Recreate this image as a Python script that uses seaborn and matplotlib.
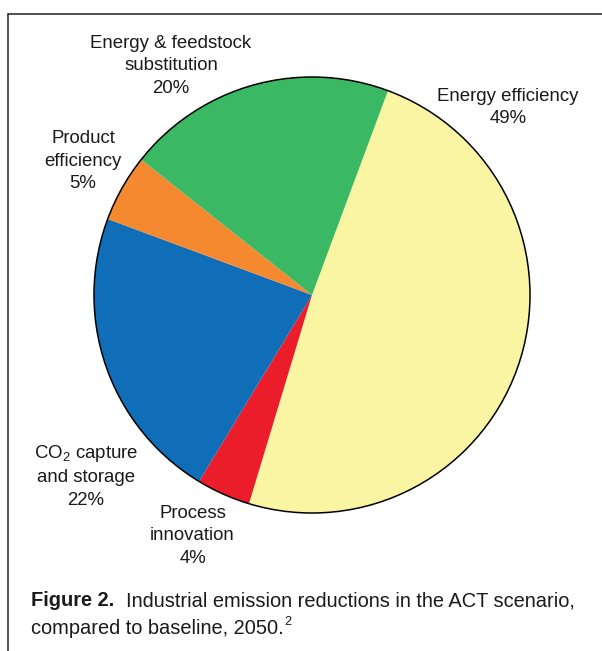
import matplotlib
matplotlib.use("Agg")
import matplotlib.pyplot as plt
import seaborn as sns
from matplotlib.lines import Line2D
from matplotlib.patches import Circle

# ---- data ----
categories = ["Energy efficiency", "Process innovation", "CO2 capture and storage",
              "Product efficiency", "Energy & feedstock substitution"]
values = [49, 4, 22, 5, 20]
label_texts = ["Energy efficiency\n49%",
               "Process\ninnovation\n4%",
               "CO$_2$ capture\nand storage\n22%",
               "Product\nefficiency\n5%",
               "Energy & feedstock\nsubstitution\n20%"]
colors = ["#F9F5A2", "#EC1D2B", "#0F6EB7", "#F5892F", "#3BB863"]
caption_bold = "Figure 2."
caption_line1 = "Industrial emission reductions in the ACT scenario,"
caption_line2 = "compared to baseline, 2050."
caption_sup = "2"

sns.set_theme(style="white")
plt.rcParams["font.family"] = ["Liberation Sans", "DejaVu Sans"]
plt.rcParams["mathtext.fontset"] = "custom"
plt.rcParams["mathtext.rm"] = "Liberation Sans"
plt.rcParams["mathtext.it"] = "Liberation Sans:italic"
plt.rcParams["mathtext.bf"] = "Liberation Sans:bold"

W, H = 602, 651
fig = plt.figure(figsize=(W / 100, H / 100), dpi=100)
fig.patch.set_facecolor("white")
ax = fig.add_axes([0, 0, 1, 1])

cx, cy, r = 312, H - 295, 218
ax.pie(values, colors=colors, startangle=69.6, counterclock=False,
       center=(cx, cy), radius=r, wedgeprops=dict(linewidth=0))
ax.add_patch(Circle((cx, cy), r, facecolor="none", edgecolor="black", linewidth=1.1))
ax.set_xlim(0, W)
ax.set_ylim(0, H)
ax.set_aspect("equal")
ax.axis("off")

# label positions (pixel centres of label blocks, y from top)
label_pos = [(508, 107.5), (192.5, 536), (86, 476), (83, 161), (171, 66)]
for txt, (x, y) in zip(label_texts, label_pos):
    ax.text(x, H - y, txt, ha="center", va="center", fontsize=13.4,
            color="#1a1a1a", linespacing=1.43)

# frame
fig.add_artist(Line2D([8 / W, 1], [1 - 14 / H, 1 - 14 / H], transform=fig.transFigure,
                      color="#222222", linewidth=1.1))
fig.add_artist(Line2D([8 / W, 8 / W], [0, 1 - 14 / H], transform=fig.transFigure,
                      color="#222222", linewidth=1.1))

# caption
fs = 14.4
t1 = ax.text(31, H - 601, caption_bold, ha="left", va="center", fontsize=fs,
             fontweight="bold", color="#1a1a1a")
fig.canvas.draw()
rend = fig.canvas.get_renderer()
bb = t1.get_window_extent(renderer=rend)
ax.text(bb.x1 + 12, H - 601, caption_line1, ha="left", va="center",
        fontsize=fs, color="#1a1a1a")
t3 = ax.text(31, H - 628, caption_line2, ha="left", va="center",
             fontsize=fs, color="#1a1a1a")
fig.canvas.draw()
bb3 = t3.get_window_extent(renderer=rend)
ax.text(bb3.x1 + 0.5, H - 622, caption_sup, ha="left", va="center",
        fontsize=9, color="#1a1a1a")

fig.savefig("out.png", dpi=100, facecolor="white")
